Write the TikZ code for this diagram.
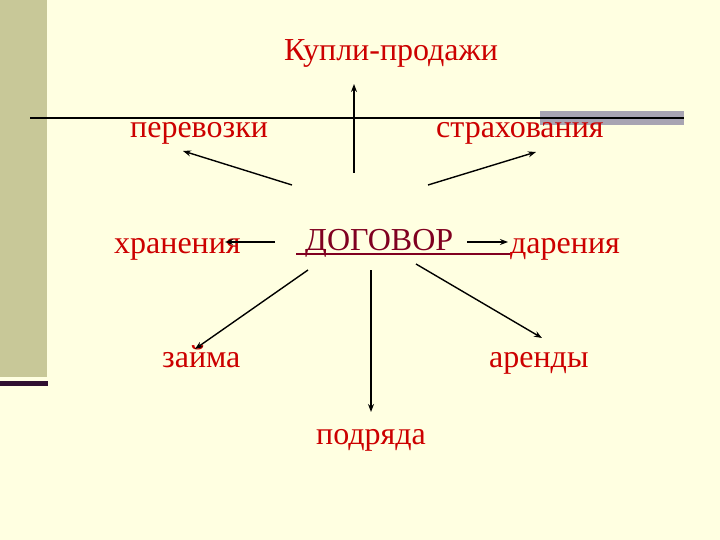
\documentclass[tikz,border=0pt]{standalone}
\usepackage{fontspec}
\setmainfont{Liberation Serif}
\usetikzlibrary{positioning,arrows.meta}
\definecolor{slideBg}{RGB}{255,255,225}
\definecolor{stripColor}{RGB}{200,200,152}
\definecolor{barColor}{RGB}{48,16,48}
\definecolor{greyBar}{RGB}{168,164,178}
\definecolor{termColor}{RGB}{204,0,0}
\definecolor{mainColor}{RGB}{128,0,32}

\begin{document}
\begin{tikzpicture}[x=1pt,y=-1pt]
  \tikzstyle{term} = [text=termColor,inner sep=0pt,anchor=base west,font=\fontsize{32}{38}\selectfont]
  \tikzstyle{main} = [term,text=mainColor]
  \tikzstyle{link} = [->,draw=black,line width=1.4pt]
  \tikzset{>={Stealth[length=8pt,width=6pt]}}

  % slide frame
  \fill[slideBg] (0,0) rectangle (720,540);
  \useasboundingbox (0,0) rectangle (720,540);
  \fill[stripColor] (0,0) rectangle (47,377);
  \fill[barColor] (0,381) rectangle (48,386);
  \fill[greyBar] (540,111) rectangle (684,125);
  \draw[line width=2pt] (30,118) -- (684,118);

  \node [main] (dogovor) at (305,251) {ДОГОВОР};
  \draw[mainColor,line width=2.5pt] ([xshift=-9pt,yshift=-3pt]dogovor.base west) -- ++(214,0);

  \node [term] (kupli) at (284,61) {Купли-продажи};
  \node [term] (perevoz) at (130,138) {перевозки};
  \node [term] (strah) at (436,138) {страхования};
  \node [term] (hran) at (114,253) {хранения};
  \node [term] (daren) at (510,253) {дарения};
  \node [term] (zaim) at (162,367) {займа};
  \node [term] (arend) at (489,367) {аренды};
  \node [term] (podr) at (316,444) {подряда};

  % arrow ends
  \coordinate (kupliA) at (354,173);  \coordinate (kupliB) at (354,84);
  \coordinate (perevozA) at (292,185); \coordinate (perevozB) at (183,151);
  \coordinate (strahA) at (428,185);  \coordinate (strahB) at (536,152);
  \coordinate (hranA) at (275,242);   \coordinate (hranB) at (225,242);
  \coordinate (darenA) at (467,242);  \coordinate (darenB) at (508,242);
  \coordinate (zaimA) at (308,270);   \coordinate (zaimB) at (195,349);
  \coordinate (podrA) at (371,270);   \coordinate (podrB) at (371,412);
  \coordinate (arendA) at (416,264);  \coordinate (arendB) at (542,338);

  \foreach \t in {kupli,perevoz,strah,hran,daren,zaim,podr,arend}
    \draw [link] (\t A) -- (\t B);
\end{tikzpicture}
\end{document}
